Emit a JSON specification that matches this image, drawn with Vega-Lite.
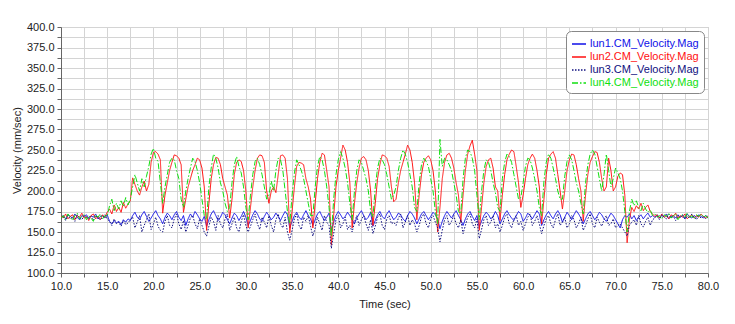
{
"$schema":"https://vega.github.io/schema/vega-lite/v6.json",
"width":647,"height":246,
"autosize":{"type":"none"},
"padding":{"left":61,"top":27,"right":27,"bottom":51},
"background":"white",
"config":{
 "font":"Liberation Sans",
 "view":{"stroke":"#c0c0c0"},
 "axis":{"labelFont":"Liberation Sans","labelFontSize":11,"labelColor":"#222","titleFont":"Liberation Sans","titleFontSize":11,"titleFontWeight":"normal","titleColor":"#222","domainColor":"#666","tickColor":"#666","tickSize":4,"gridColor":"#d4d4d4","gridWidth":1,"labelFlush":false},
 "legend":{"orient":"top-right","offset":4,"padding":5,"fillColor":"white","strokeColor":"#888","cornerRadius":5,"labelFont":"Liberation Sans","labelFontSize":11,"symbolType":"stroke","symbolSize":196,"symbolStrokeWidth":1.5,"rowPadding":0,"labelOffset":3}
},
"data":{"values":[
{"t":10,"lun1":168,"lun2":170,"lun3":167,"lun4":167},
{"t":10.25,"lun1":170,"lun2":167,"lun3":169,"lun4":170},
{"t":10.5,"lun1":166,"lun2":172,"lun3":164,"lun4":165},
{"t":10.75,"lun1":171,"lun2":166,"lun3":170,"lun4":172},
{"t":11,"lun1":169,"lun2":169,"lun3":166,"lun4":168},
{"t":11.25,"lun1":167,"lun2":171,"lun3":168,"lun4":164},
{"t":11.5,"lun1":172,"lun2":165,"lun3":163,"lun4":170},
{"t":11.75,"lun1":168,"lun2":170,"lun3":171,"lun4":173},
{"t":12,"lun1":165,"lun2":168,"lun3":167,"lun4":166},
{"t":12.25,"lun1":170,"lun2":173,"lun3":165,"lun4":169},
{"t":12.5,"lun1":169,"lun2":167,"lun3":170,"lun4":171},
{"t":12.75,"lun1":171,"lun2":169,"lun3":168,"lun4":165},
{"t":13,"lun1":167,"lun2":164,"lun3":166,"lun4":170},
{"t":13.25,"lun1":170,"lun2":170,"lun3":169,"lun4":167},
{"t":13.5,"lun1":168,"lun2":172,"lun3":164,"lun4":163},
{"t":13.75,"lun1":172,"lun2":166,"lun3":170,"lun4":171},
{"t":14,"lun1":166,"lun2":169,"lun3":167,"lun4":168},
{"t":14.25,"lun1":169,"lun2":165,"lun3":165,"lun4":172},
{"t":14.5,"lun1":170,"lun2":171,"lun3":168,"lun4":166},
{"t":14.75,"lun1":167,"lun2":168,"lun3":171,"lun4":170},
{"t":15,"lun1":171,"lun2":174,"lun3":166,"lun4":169},
{"t":15.25,"lun1":163,"lun2":178,"lun3":163,"lun4":182},
{"t":15.5,"lun1":160,"lun2":172,"lun3":158,"lun4":190},
{"t":15.75,"lun1":164,"lun2":183,"lun3":166,"lun4":176},
{"t":16,"lun1":161,"lun2":175,"lun3":160,"lun4":185},
{"t":16.25,"lun1":163,"lun2":180,"lun3":162,"lun4":178},
{"t":16.5,"lun1":159,"lun2":174,"lun3":157,"lun4":188},
{"t":16.75,"lun1":165,"lun2":186,"lun3":164,"lun4":181},
{"t":17,"lun1":162,"lun2":179,"lun3":159,"lun4":192},
{"t":17.25,"lun1":166,"lun2":184,"lun3":161,"lun4":183},
{"t":17.5,"lun1":164,"lun2":188,"lun3":165,"lun4":190},
{"t":17.75,"lun1":170,"lun2":216,"lun3":168,"lun4":205},
{"t":18,"lun1":174,"lun2":208,"lun3":155,"lun4":220},
{"t":18.25,"lun1":168,"lun2":200,"lun3":162,"lun4":210},
{"t":18.5,"lun1":165,"lun2":195,"lun3":170,"lun4":200},
{"t":18.75,"lun1":171,"lun2":205,"lun3":150,"lun4":215},
{"t":19,"lun1":175,"lun2":212,"lun3":158,"lun4":205},
{"t":19.25,"lun1":169,"lun2":200,"lun3":165,"lun4":218},
{"t":19.5,"lun1":163,"lun2":208,"lun3":172,"lun4":230},
{"t":19.75,"lun1":167,"lun2":235,"lun3":153,"lun4":245},
{"t":20,"lun1":172,"lun2":247,"lun3":160,"lun4":252},
{"t":20.25,"lun1":176,"lun2":248,"lun3":168,"lun4":240},
{"t":20.5,"lun1":170,"lun2":245,"lun3":157,"lun4":236},
{"t":20.75,"lun1":166,"lun2":238,"lun3":152,"lun4":210},
{"t":21,"lun1":160,"lun2":173,"lun3":150,"lun4":185},
{"t":21.25,"lun1":168,"lun2":195,"lun3":163,"lun4":205},
{"t":21.5,"lun1":173,"lun2":210,"lun3":170,"lun4":220},
{"t":21.75,"lun1":170,"lun2":225,"lun3":158,"lun4":235},
{"t":22,"lun1":165,"lun2":235,"lun3":155,"lun4":240},
{"t":22.25,"lun1":171,"lun2":244,"lun3":166,"lun4":238},
{"t":22.5,"lun1":175,"lun2":243,"lun3":172,"lun4":225},
{"t":22.75,"lun1":168,"lun2":240,"lun3":160,"lun4":215},
{"t":23,"lun1":164,"lun2":232,"lun3":153,"lun4":190},
{"t":23.25,"lun1":170,"lun2":174,"lun3":164,"lun4":180},
{"t":23.5,"lun1":158,"lun2":190,"lun3":150,"lun4":200},
{"t":23.75,"lun1":166,"lun2":205,"lun3":158,"lun4":215},
{"t":24,"lun1":172,"lun2":215,"lun3":167,"lun4":228},
{"t":24.25,"lun1":168,"lun2":225,"lun3":170,"lun4":240},
{"t":24.5,"lun1":175,"lun2":232,"lun3":160,"lun4":236},
{"t":24.75,"lun1":171,"lun2":240,"lun3":154,"lun4":225},
{"t":25,"lun1":166,"lun2":238,"lun3":166,"lun4":210},
{"t":25.25,"lun1":163,"lun2":228,"lun3":158,"lun4":190},
{"t":25.5,"lun1":169,"lun2":205,"lun3":150,"lun4":170},
{"t":25.75,"lun1":157,"lun2":152,"lun3":145,"lun4":165},
{"t":26,"lun1":165,"lun2":185,"lun3":157,"lun4":205},
{"t":26.25,"lun1":172,"lun2":215,"lun3":168,"lun4":228},
{"t":26.5,"lun1":176,"lun2":232,"lun3":163,"lun4":245},
{"t":26.75,"lun1":170,"lun2":241,"lun3":152,"lun4":240},
{"t":27,"lun1":164,"lun2":240,"lun3":170,"lun4":228},
{"t":27.25,"lun1":168,"lun2":232,"lun3":160,"lun4":210},
{"t":27.5,"lun1":174,"lun2":215,"lun3":155,"lun4":200},
{"t":27.75,"lun1":171,"lun2":205,"lun3":166,"lun4":185},
{"t":28,"lun1":165,"lun2":195,"lun3":172,"lun4":175},
{"t":28.25,"lun1":160,"lun2":167,"lun3":152,"lun4":180},
{"t":28.5,"lun1":167,"lun2":190,"lun3":160,"lun4":210},
{"t":28.75,"lun1":173,"lun2":220,"lun3":168,"lun4":232},
{"t":29,"lun1":170,"lun2":235,"lun3":155,"lun4":242},
{"t":29.25,"lun1":164,"lun2":238,"lun3":150,"lun4":230},
{"t":29.5,"lun1":169,"lun2":236,"lun3":163,"lun4":222},
{"t":29.75,"lun1":175,"lun2":225,"lun3":171,"lun4":205},
{"t":30,"lun1":168,"lun2":200,"lun3":158,"lun4":180},
{"t":30.25,"lun1":158,"lun2":155,"lun3":150,"lun4":165},
{"t":30.5,"lun1":164,"lun2":180,"lun3":157,"lun4":195},
{"t":30.75,"lun1":171,"lun2":205,"lun3":165,"lun4":220},
{"t":31,"lun1":176,"lun2":225,"lun3":172,"lun4":236},
{"t":31.25,"lun1":172,"lun2":240,"lun3":160,"lun4":240},
{"t":31.5,"lun1":166,"lun2":244,"lun3":153,"lun4":232},
{"t":31.75,"lun1":163,"lun2":243,"lun3":168,"lun4":220},
{"t":32,"lun1":169,"lun2":235,"lun3":162,"lun4":205},
{"t":32.25,"lun1":174,"lun2":200,"lun3":155,"lun4":190},
{"t":32.5,"lun1":170,"lun2":185,"lun3":170,"lun4":195},
{"t":32.75,"lun1":165,"lun2":200,"lun3":158,"lun4":212},
{"t":33,"lun1":168,"lun2":205,"lun3":150,"lun4":200},
{"t":33.25,"lun1":173,"lun2":198,"lun3":165,"lun4":225},
{"t":33.5,"lun1":169,"lun2":220,"lun3":172,"lun4":240},
{"t":33.75,"lun1":164,"lun2":243,"lun3":160,"lun4":238},
{"t":34,"lun1":170,"lun2":244,"lun3":155,"lun4":225},
{"t":34.25,"lun1":175,"lun2":240,"lun3":168,"lun4":200},
{"t":34.5,"lun1":171,"lun2":215,"lun3":150,"lun4":175},
{"t":34.75,"lun1":155,"lun2":149,"lun3":140,"lun4":160},
{"t":35,"lun1":163,"lun2":175,"lun3":152,"lun4":195},
{"t":35.25,"lun1":170,"lun2":205,"lun3":166,"lun4":222},
{"t":35.5,"lun1":174,"lun2":230,"lun3":172,"lun4":238},
{"t":35.75,"lun1":168,"lun2":235,"lun3":158,"lun4":232},
{"t":36,"lun1":165,"lun2":234,"lun3":153,"lun4":225},
{"t":36.25,"lun1":171,"lun2":232,"lun3":168,"lun4":215},
{"t":36.5,"lun1":176,"lun2":215,"lun3":163,"lun4":200},
{"t":36.75,"lun1":170,"lun2":205,"lun3":170,"lun4":185},
{"t":37,"lun1":166,"lun2":190,"lun3":157,"lun4":170},
{"t":37.25,"lun1":158,"lun2":155,"lun3":145,"lun4":170},
{"t":37.5,"lun1":165,"lun2":185,"lun3":155,"lun4":205},
{"t":37.75,"lun1":172,"lun2":215,"lun3":168,"lun4":230},
{"t":38,"lun1":175,"lun2":235,"lun3":160,"lun4":242},
{"t":38.25,"lun1":169,"lun2":246,"lun3":152,"lun4":238},
{"t":38.5,"lun1":164,"lun2":244,"lun3":170,"lun4":225},
{"t":38.75,"lun1":168,"lun2":225,"lun3":162,"lun4":205},
{"t":39,"lun1":173,"lun2":205,"lun3":158,"lun4":180},
{"t":39.25,"lun1":152,"lun2":134,"lun3":130,"lun4":145},
{"t":39.5,"lun1":162,"lun2":170,"lun3":148,"lun4":190},
{"t":39.75,"lun1":170,"lun2":205,"lun3":165,"lun4":220},
{"t":40,"lun1":175,"lun2":225,"lun3":170,"lun4":238},
{"t":40.25,"lun1":171,"lun2":240,"lun3":155,"lun4":248},
{"t":40.5,"lun1":166,"lun2":256,"lun3":160,"lun4":240},
{"t":40.75,"lun1":169,"lun2":250,"lun3":168,"lun4":228},
{"t":41,"lun1":174,"lun2":235,"lun3":153,"lun4":210},
{"t":41.25,"lun1":170,"lun2":210,"lun3":158,"lun4":185},
{"t":41.5,"lun1":165,"lun2":155,"lun3":150,"lun4":165},
{"t":41.75,"lun1":160,"lun2":185,"lun3":162,"lun4":200},
{"t":42,"lun1":167,"lun2":210,"lun3":170,"lun4":225},
{"t":42.25,"lun1":172,"lun2":228,"lun3":158,"lun4":238},
{"t":42.5,"lun1":176,"lun2":240,"lun3":165,"lun4":235},
{"t":42.75,"lun1":170,"lun2":242,"lun3":170,"lun4":225},
{"t":43,"lun1":165,"lun2":238,"lun3":160,"lun4":215},
{"t":43.25,"lun1":168,"lun2":225,"lun3":152,"lun4":200},
{"t":43.5,"lun1":174,"lun2":200,"lun3":165,"lun4":175},
{"t":43.75,"lun1":157,"lun2":158,"lun3":148,"lun4":168},
{"t":44,"lun1":164,"lun2":185,"lun3":157,"lun4":205},
{"t":44.25,"lun1":171,"lun2":215,"lun3":168,"lun4":228},
{"t":44.5,"lun1":175,"lun2":232,"lun3":172,"lun4":240},
{"t":44.75,"lun1":169,"lun2":244,"lun3":158,"lun4":238},
{"t":45,"lun1":166,"lun2":243,"lun3":153,"lun4":232},
{"t":45.25,"lun1":172,"lun2":240,"lun3":166,"lun4":220},
{"t":45.5,"lun1":176,"lun2":230,"lun3":170,"lun4":205},
{"t":45.75,"lun1":170,"lun2":205,"lun3":160,"lun4":190},
{"t":46,"lun1":165,"lun2":187,"lun3":162,"lun4":195},
{"t":46.25,"lun1":168,"lun2":190,"lun3":158,"lun4":205},
{"t":46.5,"lun1":173,"lun2":210,"lun3":167,"lun4":225},
{"t":46.75,"lun1":171,"lun2":225,"lun3":172,"lun4":240},
{"t":47,"lun1":166,"lun2":235,"lun3":155,"lun4":250},
{"t":47.25,"lun1":163,"lun2":245,"lun3":162,"lun4":245},
{"t":47.5,"lun1":170,"lun2":256,"lun3":170,"lun4":235},
{"t":47.75,"lun1":175,"lun2":250,"lun3":158,"lun4":220},
{"t":48,"lun1":172,"lun2":235,"lun3":165,"lun4":205},
{"t":48.25,"lun1":167,"lun2":210,"lun3":160,"lun4":180},
{"t":48.5,"lun1":160,"lun2":165,"lun3":150,"lun4":175},
{"t":48.75,"lun1":166,"lun2":195,"lun3":158,"lun4":210},
{"t":49,"lun1":172,"lun2":220,"lun3":168,"lun4":232},
{"t":49.25,"lun1":175,"lun2":235,"lun3":172,"lun4":240},
{"t":49.5,"lun1":170,"lun2":240,"lun3":160,"lun4":236},
{"t":49.75,"lun1":165,"lun2":243,"lun3":155,"lun4":230},
{"t":50,"lun1":169,"lun2":238,"lun3":166,"lun4":215},
{"t":50.25,"lun1":174,"lun2":225,"lun3":170,"lun4":200},
{"t":50.5,"lun1":171,"lun2":200,"lun3":162,"lun4":175},
{"t":50.75,"lun1":166,"lun2":150,"lun3":155,"lun4":160},
{"t":51,"lun1":154,"lun2":180,"lun3":138,"lun4":263},
{"t":51.25,"lun1":163,"lun2":215,"lun3":152,"lun4":230},
{"t":51.5,"lun1":170,"lun2":235,"lun3":165,"lun4":240},
{"t":51.75,"lun1":175,"lun2":244,"lun3":170,"lun4":238},
{"t":52,"lun1":171,"lun2":246,"lun3":158,"lun4":232},
{"t":52.25,"lun1":167,"lun2":240,"lun3":163,"lun4":225},
{"t":52.5,"lun1":172,"lun2":228,"lun3":170,"lun4":210},
{"t":52.75,"lun1":176,"lun2":210,"lun3":160,"lun4":195},
{"t":53,"lun1":170,"lun2":195,"lun3":155,"lun4":175},
{"t":53.25,"lun1":165,"lun2":162,"lun3":165,"lun4":172},
{"t":53.5,"lun1":158,"lun2":195,"lun3":148,"lun4":215},
{"t":53.75,"lun1":166,"lun2":225,"lun3":158,"lun4":240},
{"t":54,"lun1":172,"lun2":245,"lun3":168,"lun4":250},
{"t":54.25,"lun1":175,"lun2":255,"lun3":172,"lun4":248},
{"t":54.5,"lun1":169,"lun2":262,"lun3":160,"lun4":240},
{"t":54.75,"lun1":164,"lun2":245,"lun3":155,"lun4":225},
{"t":55,"lun1":170,"lun2":225,"lun3":166,"lun4":195},
{"t":55.25,"lun1":156,"lun2":152,"lun3":142,"lun4":165},
{"t":55.5,"lun1":163,"lun2":180,"lun3":153,"lun4":200},
{"t":55.75,"lun1":170,"lun2":210,"lun3":165,"lun4":225},
{"t":56,"lun1":174,"lun2":230,"lun3":170,"lun4":238},
{"t":56.25,"lun1":171,"lun2":238,"lun3":158,"lun4":235},
{"t":56.5,"lun1":166,"lun2":240,"lun3":162,"lun4":225},
{"t":56.75,"lun1":169,"lun2":228,"lun3":170,"lun4":210},
{"t":57,"lun1":175,"lun2":205,"lun3":155,"lun4":198},
{"t":57.25,"lun1":170,"lun2":200,"lun3":160,"lun4":180},
{"t":57.5,"lun1":160,"lun2":164,"lun3":150,"lun4":175},
{"t":57.75,"lun1":166,"lun2":195,"lun3":158,"lun4":215},
{"t":58,"lun1":172,"lun2":220,"lun3":168,"lun4":235},
{"t":58.25,"lun1":176,"lun2":238,"lun3":172,"lun4":245},
{"t":58.5,"lun1":171,"lun2":245,"lun3":160,"lun4":242},
{"t":58.75,"lun1":167,"lun2":250,"lun3":155,"lun4":235},
{"t":59,"lun1":164,"lun2":248,"lun3":166,"lun4":220},
{"t":59.25,"lun1":170,"lun2":230,"lun3":170,"lun4":205},
{"t":59.5,"lun1":175,"lun2":210,"lun3":158,"lun4":190},
{"t":59.75,"lun1":172,"lun2":180,"lun3":163,"lun4":192},
{"t":60,"lun1":163,"lun2":195,"lun3":152,"lun4":210},
{"t":60.25,"lun1":167,"lun2":215,"lun3":160,"lun4":230},
{"t":60.5,"lun1":173,"lun2":232,"lun3":168,"lun4":240},
{"t":60.75,"lun1":170,"lun2":240,"lun3":172,"lun4":238},
{"t":61,"lun1":166,"lun2":245,"lun3":158,"lun4":228},
{"t":61.25,"lun1":171,"lun2":240,"lun3":163,"lun4":215},
{"t":61.5,"lun1":176,"lun2":225,"lun3":170,"lun4":200},
{"t":61.75,"lun1":172,"lun2":205,"lun3":160,"lun4":180},
{"t":62,"lun1":158,"lun2":160,"lun3":148,"lun4":170},
{"t":62.25,"lun1":165,"lun2":190,"lun3":158,"lun4":212},
{"t":62.5,"lun1":171,"lun2":220,"lun3":166,"lun4":235},
{"t":62.75,"lun1":175,"lun2":240,"lun3":170,"lun4":245},
{"t":63,"lun1":170,"lun2":245,"lun3":160,"lun4":240},
{"t":63.25,"lun1":166,"lun2":248,"lun3":155,"lun4":228},
{"t":63.5,"lun1":172,"lun2":240,"lun3":165,"lun4":215},
{"t":63.75,"lun1":176,"lun2":220,"lun3":172,"lun4":200},
{"t":64,"lun1":171,"lun2":200,"lun3":158,"lun4":190},
{"t":64.25,"lun1":162,"lun2":178,"lun3":162,"lun4":190},
{"t":64.5,"lun1":168,"lun2":200,"lun3":168,"lun4":218},
{"t":64.75,"lun1":174,"lun2":225,"lun3":155,"lun4":236},
{"t":65,"lun1":170,"lun2":238,"lun3":160,"lun4":244},
{"t":65.25,"lun1":165,"lun2":245,"lun3":170,"lun4":238},
{"t":65.5,"lun1":171,"lun2":244,"lun3":165,"lun4":225},
{"t":65.75,"lun1":176,"lun2":232,"lun3":155,"lun4":210},
{"t":66,"lun1":172,"lun2":215,"lun3":160,"lun4":200},
{"t":66.25,"lun1":167,"lun2":200,"lun3":168,"lun4":185},
{"t":66.5,"lun1":160,"lun2":163,"lun3":152,"lun4":172},
{"t":66.75,"lun1":166,"lun2":195,"lun3":158,"lun4":210},
{"t":67,"lun1":172,"lun2":220,"lun3":166,"lun4":232},
{"t":67.25,"lun1":175,"lun2":235,"lun3":172,"lun4":245},
{"t":67.5,"lun1":170,"lun2":242,"lun3":160,"lun4":250},
{"t":67.75,"lun1":165,"lun2":248,"lun3":155,"lun4":245},
{"t":68,"lun1":169,"lun2":247,"lun3":168,"lun4":230},
{"t":68.25,"lun1":174,"lun2":235,"lun3":162,"lun4":215},
{"t":68.5,"lun1":171,"lun2":215,"lun3":157,"lun4":200},
{"t":68.75,"lun1":166,"lun2":200,"lun3":165,"lun4":220},
{"t":69,"lun1":163,"lun2":205,"lun3":170,"lun4":245},
{"t":69.25,"lun1":168,"lun2":240,"lun3":158,"lun4":225},
{"t":69.5,"lun1":173,"lun2":225,"lun3":160,"lun4":205},
{"t":69.75,"lun1":170,"lun2":200,"lun3":166,"lun4":215},
{"t":70,"lun1":165,"lun2":205,"lun3":155,"lun4":228},
{"t":70.25,"lun1":160,"lun2":218,"lun3":158,"lun4":222},
{"t":70.5,"lun1":155,"lun2":222,"lun3":160,"lun4":215},
{"t":70.75,"lun1":165,"lun2":220,"lun3":155,"lun4":200},
{"t":71,"lun1":170,"lun2":195,"lun3":150,"lun4":175},
{"t":71.25,"lun1":168,"lun2":137,"lun3":145,"lun4":150},
{"t":71.5,"lun1":172,"lun2":165,"lun3":158,"lun4":175},
{"t":71.75,"lun1":166,"lun2":180,"lun3":162,"lun4":190},
{"t":72,"lun1":170,"lun2":175,"lun3":165,"lun4":182},
{"t":72.25,"lun1":164,"lun2":182,"lun3":158,"lun4":188},
{"t":72.5,"lun1":168,"lun2":178,"lun3":170,"lun4":180},
{"t":72.75,"lun1":171,"lun2":185,"lun3":160,"lun4":176},
{"t":73,"lun1":166,"lun2":176,"lun3":156,"lun4":185},
{"t":73.25,"lun1":170,"lun2":180,"lun3":163,"lun4":178},
{"t":73.5,"lun1":173,"lun2":183,"lun3":168,"lun4":174},
{"t":73.75,"lun1":168,"lun2":175,"lun3":158,"lun4":177},
{"t":74,"lun1":170,"lun2":172,"lun3":165,"lun4":170},
{"t":74.25,"lun1":168,"lun2":169,"lun3":167,"lun4":172},
{"t":74.5,"lun1":171,"lun2":171,"lun3":170,"lun4":168},
{"t":74.75,"lun1":167,"lun2":167,"lun3":165,"lun4":170},
{"t":75,"lun1":170,"lun2":172,"lun3":171,"lun4":166},
{"t":75.25,"lun1":169,"lun2":168,"lun3":168,"lun4":171},
{"t":75.5,"lun1":172,"lun2":170,"lun3":166,"lun4":169},
{"t":75.75,"lun1":166,"lun2":166,"lun3":172,"lun4":173},
{"t":76,"lun1":169,"lun2":171,"lun3":167,"lun4":167},
{"t":76.25,"lun1":170,"lun2":169,"lun3":169,"lun4":170},
{"t":76.5,"lun1":167,"lun2":173,"lun3":164,"lun4":172},
{"t":76.75,"lun1":171,"lun2":167,"lun3":170,"lun4":165},
{"t":77,"lun1":168,"lun2":170,"lun3":168,"lun4":169},
{"t":77.25,"lun1":170,"lun2":168,"lun3":171,"lun4":171},
{"t":77.5,"lun1":166,"lun2":172,"lun3":166,"lun4":168},
{"t":77.75,"lun1":172,"lun2":166,"lun3":169,"lun4":173},
{"t":78,"lun1":169,"lun2":169,"lun3":167,"lun4":167},
{"t":78.25,"lun1":167,"lun2":171,"lun3":172,"lun4":170},
{"t":78.5,"lun1":170,"lun2":167,"lun3":168,"lun4":166},
{"t":78.75,"lun1":168,"lun2":170,"lun3":165,"lun4":171},
{"t":79,"lun1":171,"lun2":168,"lun3":170,"lun4":169},
{"t":79.25,"lun1":169,"lun2":172,"lun3":167,"lun4":172},
{"t":79.5,"lun1":167,"lun2":169,"lun3":169,"lun4":168},
{"t":79.75,"lun1":170,"lun2":167,"lun3":166,"lun4":170},
{"t":80,"lun1":168,"lun2":170,"lun3":168,"lun4":167}
]},
"transform":[{"fold":["lun1","lun2","lun3","lun4"],"as":["series","v"]}],
"mark":{"type":"line","strokeWidth":1,"clip":true},
"encoding":{
 "x":{"field":"t","type":"quantitative","scale":{"domain":[10,80],"nice":false,"zero":false},
  "axis":{"title":"Time (sec)","titlePadding":7,"grid":true,"values":[10,12.5,15,17.5,20,22.5,25,27.5,30,32.5,35,37.5,40,42.5,45,47.5,50,52.5,55,57.5,60,62.5,65,67.5,70,72.5,75,77.5,80],"labelExpr":"datum.value % 5 === 0 ? format(datum.value, '.1f') : ''","labelPadding":3}},
 "y":{"field":"v","type":"quantitative","scale":{"domain":[100,400],"nice":false,"zero":false},
  "axis":{"title":"Velocity (mm/sec)","titlePadding":4,"grid":true,"values":[100,112.5,125,137.5,150,162.5,175,187.5,200,212.5,225,237.5,250,262.5,275,287.5,300,312.5,325,337.5,350,362.5,375,387.5,400],"labelExpr":"datum.value % 25 === 0 ? format(datum.value, '.1f') : ''","labelPadding":3}},
 "color":{"field":"series","type":"nominal","scale":{"domain":["lun1","lun2","lun3","lun4"],"range":["#1010e8","#ff1010","#101080","#10e010"]},
  "legend":{"title":null,"labelExpr":"datum.label + '.CM_Velocity.Mag'","encode":{"labels":{"update":{"fill":{"scale":"color","field":"value"}}}}}},
 "strokeDash":{"field":"series","type":"nominal","scale":{"domain":["lun1","lun2","lun3","lun4"],"range":[[1,0],[1,0],[1.5,1.5],[6,2,1.5,2]]},
  "legend":{"title":null,"labelExpr":"datum.label + '.CM_Velocity.Mag'","encode":{"labels":{"update":{"fill":{"scale":"color","field":"value"}}}}}}
}
}
